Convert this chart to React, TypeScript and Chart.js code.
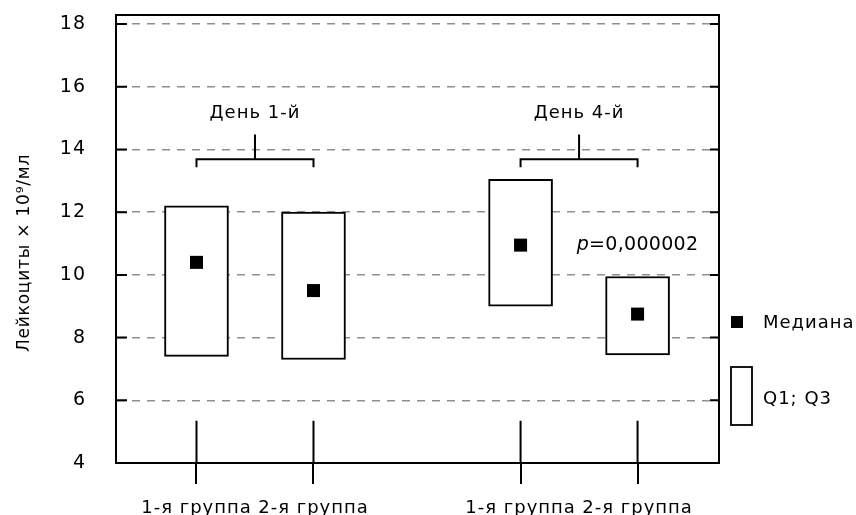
import { useEffect, useRef } from 'react';
import { Chart, registerables } from 'chart.js';

Chart.register(...registerables);

// ---- Data ----
const groupLabels = ['1-я группа', '2-я группа', '1-я группа', '2-я группа'];
const groupX = [1, 2, 3.77, 4.77];
const q1Values = [7.4, 7.3, 9.0, 7.45];
const q3Values = [12.2, 12.0, 13.05, 9.95];
const medianValues = [10.4, 9.5, 10.95, 8.75];
const dayLabels = ['День 1-й', 'День 4-й'];
const dayGroups = [[0, 1], [2, 3]];
const yTickValues = [4, 6, 8, 10, 12, 14, 16, 18];
const pValueParts = ['p', '=0,000002'];
const pValueGroup = 3;
const legendLabels = ['Медиана', 'Q1; Q3'];
const yAxisTitle = 'Лейкоциты × 10⁹/мл';

// ---- Layout / style constants ----
const X_MIN = 0.312;
const X_MAX = 5.466;
const Y_MIN = 4;
const Y_MAX = 18.29;
const BRACKET_Y = 13.69;
const BRACKET_END_Y = 13.43;
const BRACKET_STEM_Y = 14.48;
const DAY_LABEL_Y = 15.0;
const STUB_TOP_Y = 5.35;
const P_LABEL_Y = 10.8;
const FONT = '"DejaVu Sans", "Liberation Sans", sans-serif';

const bracketData: { x: number; y: number | null }[] = [];
dayGroups.forEach(([a, b]) => {
  const xa = groupX[a];
  const xb = groupX[b];
  const xm = (xa + xb) / 2;
  bracketData.push(
    { x: xa, y: BRACKET_END_Y },
    { x: xa, y: BRACKET_Y },
    { x: xb, y: BRACKET_Y },
    { x: xb, y: BRACKET_END_Y },
    { x: xb, y: null },
    { x: xm, y: BRACKET_Y },
    { x: xm, y: BRACKET_STEM_Y },
    { x: xm, y: null }
  );
});

const stubData: { x: number; y: number | null }[] = [];
groupX.forEach((gx) => {
  stubData.push({ x: gx, y: STUB_TOP_Y }, { x: gx, y: Y_MIN }, { x: gx, y: null });
});

const annotationPlugin = {
  id: 'annotations',
  beforeDraw(chart: any) {
    chart.ctx.letterSpacing = '1px';
  },
  afterDraw(chart: any) {
    const { ctx, chartArea, scales } = chart;
    const { left, right, top, bottom } = chartArea;
    const x = scales.x;
    const y = scales.y;
    ctx.save();
    ctx.strokeStyle = '#000';
    ctx.lineWidth = 2;
    ctx.strokeRect(left, top, right - left, bottom - top);
    yTickValues.forEach((v) => {
      const py = y.getPixelForValue(v);
      ctx.beginPath();
      ctx.moveTo(left, py);
      ctx.lineTo(left + 11, py);
      ctx.moveTo(right - 9, py);
      ctx.lineTo(right, py);
      ctx.stroke();
    });

    ctx.fillStyle = '#000';
    ctx.textBaseline = 'alphabetic';
    ctx.textAlign = 'center';
    ctx.font = `18px ${FONT}`;
    ctx.letterSpacing = '1px';
    dayGroups.forEach(([a, b], d) => {
      const xm = x.getPixelForValue((groupX[a] + groupX[b]) / 2);
      ctx.fillText(dayLabels[d], xm, y.getPixelForValue(DAY_LABEL_Y));
    });

    // p-value
    ctx.textAlign = 'left';
    ctx.letterSpacing = '0.3px';
    ctx.font = `italic 19px ${FONT}`;
    const w1 = ctx.measureText(pValueParts[0]).width;
    ctx.font = `19px ${FONT}`;
    const w2 = ctx.measureText(pValueParts[1]).width;
    const cx = x.getPixelForValue(groupX[pValueGroup]);
    const py = y.getPixelForValue(P_LABEL_Y);
    const sx = cx - (w1 + w2) / 2;
    ctx.font = `italic 19px ${FONT}`;
    ctx.fillText(pValueParts[0], sx, py);
    ctx.font = `19px ${FONT}`;
    ctx.fillText(pValueParts[1], sx + w1, py);

    // legend
    ctx.fillRect(731, 316, 12, 12);
    ctx.lineWidth = 1.8;
    ctx.strokeRect(731, 367, 21, 58);
    ctx.font = `18px ${FONT}`;
    ctx.letterSpacing = '1px';
    ctx.fillText(legendLabels[0], 763, 328);
    ctx.fillText(legendLabels[1], 763, 404);

    // y axis title
    ctx.save();
    ctx.translate(25, 253);
    ctx.rotate(-Math.PI / 2);
    ctx.textAlign = 'center';
    ctx.textBaseline = 'middle';
    ctx.font = `17px ${FONT}`;
    ctx.letterSpacing = '0.8px';
    ctx.fillText(yAxisTitle, 0, 0);
    ctx.restore();

    ctx.restore();
  },
};

export default function App() {
  const canvasRef = useRef<HTMLCanvasElement | null>(null);

  useEffect(() => {
    if (!canvasRef.current) return;
    const chart = new Chart(canvasRef.current, {
      type: 'bar',
      data: {
        datasets: [
          {
            type: 'scatter',
            data: groupX.map((gx, i) => ({ x: gx, y: medianValues[i] })),
            pointStyle: 'rect',
            pointRadius: 9.2,
            pointHoverRadius: 9.2,
            pointBackgroundColor: '#000',
            pointBorderWidth: 0,
            order: 0,
          } as any,
          {
            type: 'line',
            data: bracketData,
            borderColor: '#000',
            borderWidth: 2,
            pointRadius: 0,
            spanGaps: false,
            fill: false,
            order: 1,
          } as any,
          {
            type: 'line',
            data: stubData,
            borderColor: '#000',
            borderWidth: 2,
            pointRadius: 0,
            spanGaps: false,
            fill: false,
            order: 1,
          } as any,
          {
            type: 'bar',
            data: groupX.map((gx, i) => ({ x: gx, y: [q1Values[i], q3Values[i]] })),
            backgroundColor: '#fff',
            borderColor: '#000',
            borderWidth: 2,
            borderSkipped: false,
            barThickness: 64,
            order: 2,
          } as any,
        ],
      },
      options: {
        responsive: false,
        animation: false,
        events: [],
        layout: { padding: { left: 0, top: 15, right: 137, bottom: 0 } },
        plugins: {
          legend: { display: false },
          tooltip: { enabled: false },
        },
        scales: {
          x: {
            type: 'linear',
            min: X_MIN,
            max: X_MAX,
            offset: false,
            afterBuildTicks: (s: any) => {
              s.ticks = groupX.map((v) => ({ value: v }));
            },
            afterFit: (s: any) => {
              s.height = 52;
            },
            ticks: {
              autoSkip: false,
              maxRotation: 0,
              color: '#000',
              padding: 14,
              font: { family: FONT, size: 18 },
              callback: (_v: any, i: number) => groupLabels[i],
            },
            grid: {
              offset: false,
              drawOnChartArea: false,
              drawTicks: true,
              tickLength: 21,
              color: '#000',
              lineWidth: 2,
            },
            border: { display: true, color: '#000', width: 2 },
          } as any,
          y: {
            type: 'linear',
            min: Y_MIN,
            max: Y_MAX,
            afterBuildTicks: (s: any) => {
              s.ticks = yTickValues.map((v) => ({ value: v }));
            },
            afterFit: (s: any) => {
              s.width = 116;
            },
            ticks: {
              color: '#000',
              padding: 0,
              font: { family: FONT, size: 19 },
              callback: (v: any) => String(v),
            },
            grid: {
              color: '#8f8f8f',
              lineWidth: 1.5,
              drawTicks: true,
              tickLength: 30,
              tickColor: 'rgba(0,0,0,0)',
            },
            border: { display: true, color: '#000', width: 2, dash: [8, 7] },
          } as any,
        },
      },
      plugins: [annotationPlugin],
    });
    return () => chart.destroy();
  }, []);

  return (
    <div style={{ position: 'absolute', left: 0, top: 0, width: 856, height: 515, background: '#fff' }}>
      <canvas ref={canvasRef} width={856} height={515} />
    </div>
  );
}
